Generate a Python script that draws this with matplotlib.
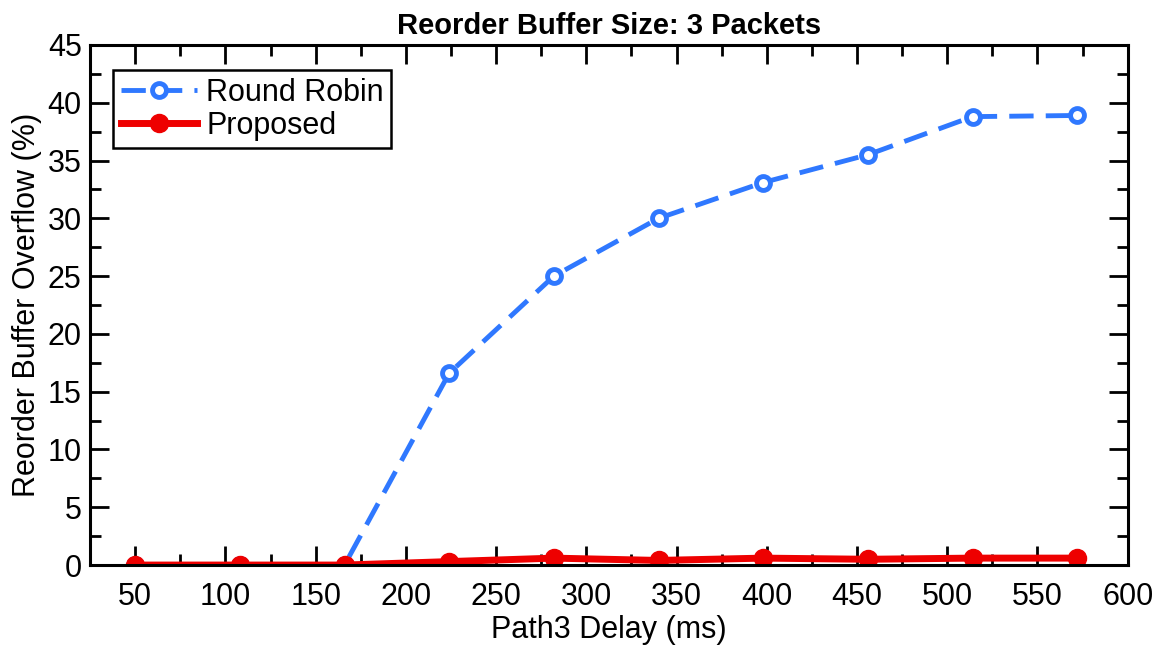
import numpy as np
import matplotlib.pyplot as plt
from matplotlib.ticker import MultipleLocator

plt.rcParams['font.family'] = ['Liberation Sans', 'DejaVu Sans']

# data
delay_ms = [50, 108, 166, 224, 282, 340, 398, 456, 514, 572]
round_robin = [0, 0, 0, 16.6, 25.0, 30.0, 33.1, 35.5, 38.8, 38.9]
proposed = [0, 0, 0, 0.3, 0.6, 0.4, 0.6, 0.5, 0.6, 0.6]

fig = plt.figure(figsize=(11.59, 6.48), dpi=100)
ax = fig.add_axes([0.0777, 0.128, 0.8953, 0.8026])

ax.plot(delay_ms, round_robin, color='#2f78ff', linewidth=3.5, dashes=(5, 2.5),
        marker='o', markersize=10, markerfacecolor='white',
        markeredgecolor='#2f78ff', markeredgewidth=3.5, label='Round Robin')
ax.plot(delay_ms, proposed, color='#ee0000', linewidth=5,
        marker='o', markersize=13, markerfacecolor='#ee0000',
        markeredgecolor='#ee0000', label='Proposed')

ax.set_xlim(25, 600)
ax.set_ylim(0, 45)
ax.xaxis.set_major_locator(MultipleLocator(50))
ax.xaxis.set_minor_locator(MultipleLocator(25))
ax.yaxis.set_major_locator(MultipleLocator(5))
ax.yaxis.set_minor_locator(MultipleLocator(2.5))

ax.tick_params(which='both', direction='in', top=True, right=True,
               labelsize=22, width=2, pad=6)
ax.tick_params(axis='x', which='both', pad=12)
ax.tick_params(which='major', length=14)
ax.tick_params(which='minor', length=8)
for s in ax.spines.values():
    s.set_linewidth(2.2)

ax.set_xlabel('Path3 Delay (ms)', fontsize=22, labelpad=2)
ax.set_ylabel('Reorder Buffer Overflow (%)', fontsize=22, labelpad=4)
ax.set_title('Reorder Buffer Size: 3 Packets', fontsize=21, fontweight='bold', pad=8)

leg = ax.legend(loc='upper left', bbox_to_anchor=(0.022, 0.952), fontsize=22,
                handlelength=2.5, handletextpad=0.3, borderpad=0.25,
                labelspacing=0.1, borderaxespad=0, fancybox=False,
                framealpha=1, edgecolor='black')
leg.get_frame().set_linewidth(1.8)

fig.savefig('out.png', dpi=100)
